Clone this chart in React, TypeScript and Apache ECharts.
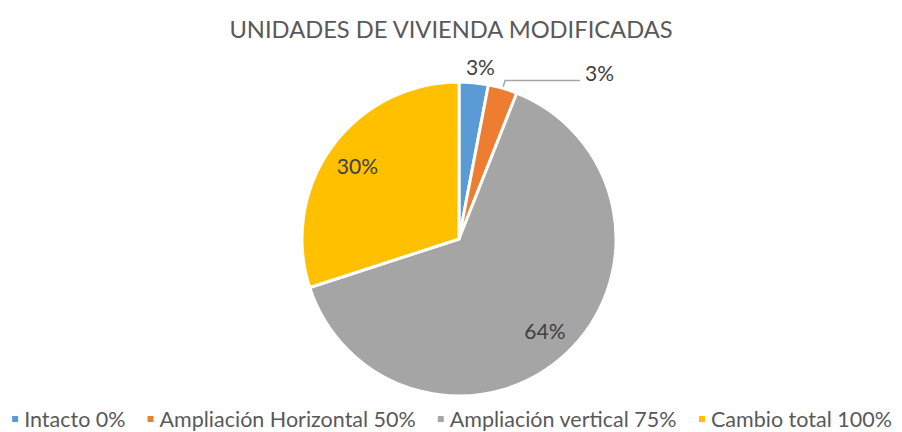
import React, { useEffect, useRef } from "react";
import * as echarts from "echarts";

const titleText = "UNIDADES DE VIVIENDA MODIFICADAS";
const categories = ["Intacto 0%", "Ampliación Horizontal 50%", "Ampliación vertical 75%", "Cambio total 100%"];
const values = [3, 3, 64, 30];
const colors = ["#5B9BD5", "#ED7D31", "#A5A5A5", "#FFC000"];
const insideLabel = [false, false, true, true];

const FONT = "Lato, 'Open Sans', sans-serif";

export default function App() {
  const ref = useRef<HTMLDivElement>(null);
  useEffect(() => {
    if (!ref.current) return;
    const chart = echarts.init(ref.current, null, { renderer: "svg" });
    const fmt = (p: any) => Math.round(p.percent) + "%";
    const labelStyle = { color: "#404040", fontSize: 21, fontFamily: FONT };
    const mainData = categories.map((c, i) => ({
      name: c,
      value: values[i],
      itemStyle: { color: colors[i] },
      label: insideLabel[i]
        ? { show: false }
        : { show: true, position: "outside", formatter: fmt, ...labelStyle },
      labelLine:
        i === 0
          ? { show: false, length: 12, length2: 0 }
          : { show: true, length: 8, length2: 75, lineStyle: { color: "#A6A6A6", width: 1.5 } },
    }));
    const overlayData = categories.map((c, i) => ({
      name: c,
      value: values[i],
      itemStyle: { color: "rgba(0,0,0,0)", borderWidth: 0 },
      label: insideLabel[i]
        ? { show: true, position: "inside", formatter: fmt, ...labelStyle }
        : { show: false },
      labelLine: { show: false },
    }));
    chart.setOption({
      animation: false,
      title: {
        text: titleText,
        left: "center",
        top: 12,
        textStyle: { color: "#595959", fontSize: 23.7, fontWeight: "normal", fontFamily: FONT },
      },
      legend: {
        top: 406,
        left: "center",
        icon: "rect",
        itemWidth: 8,
        itemHeight: 8,
        itemGap: 20,
        padding: 0,
        data: categories,
        textStyle: { color: "#595959", fontSize: 21.5, fontFamily: FONT, lineHeight: 26 },
      },
      series: [
        {
          type: "pie",
          center: [459, 239],
          radius: [0, 157],
          startAngle: 90,
          clockwise: true,
          avoidLabelOverlap: false,
          silent: true,
          itemStyle: { borderColor: "#ffffff", borderWidth: 3 },
          labelLayout: (p: any) => (p.dataIndex === 0 ? { dx: -14, dy: -4 } : { dy: -8 }),
          data: mainData,
        },
        {
          type: "pie",
          center: [459, 239],
          radius: [0, 245],
          startAngle: 90,
          clockwise: true,
          avoidLabelOverlap: false,
          silent: true,
          z: 3,
          data: overlayData,
        },
      ],
    });
    return () => chart.dispose();
  }, []);
  return (
    <div
      ref={ref}
      style={{ position: "absolute", left: 0, top: 0, width: 902, height: 432 }}
    />
  );
}
